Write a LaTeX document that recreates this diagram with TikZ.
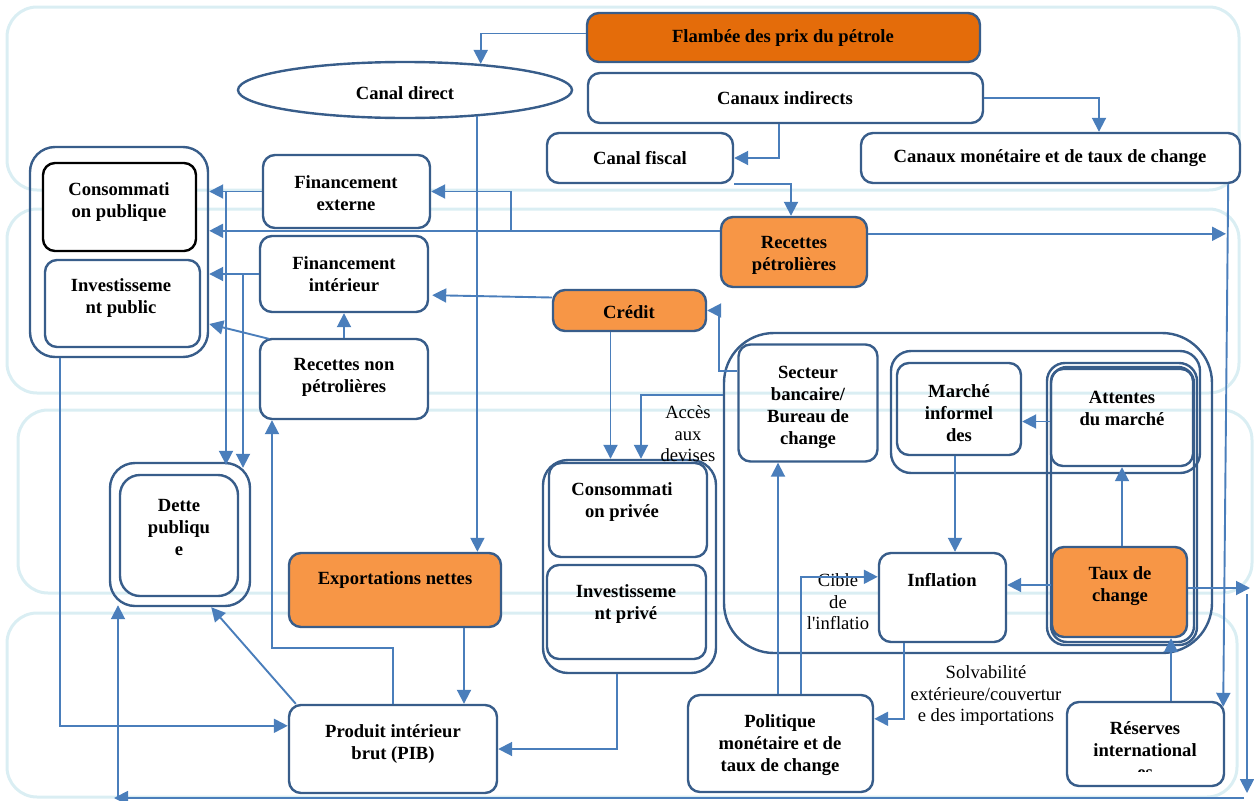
\documentclass[tikz,border=0pt]{standalone}
\usepackage{fontspec}
\setmainfont{Liberation Serif}
\usetikzlibrary{shapes.geometric,arrows.meta,calc}
\definecolor{bord}{HTML}{385D8A}
\definecolor{arrc}{HTML}{4A7EBB}
\definecolor{band}{HTML}{DAEEF3}
\definecolor{orD}{HTML}{E46C0A}
\definecolor{orL}{HTML}{F79646}
\begin{document}
\begin{tikzpicture}[x=1pt,y=-1pt,
  sz/.style 2 args={minimum width=#1pt, minimum height=#2pt},
  bx/.style={draw=bord, line width=2.4pt, rounded corners=12pt, inner sep=0pt, fill=white},
  bxo/.style={draw=bord, line width=2.4pt, rounded corners=12pt, inner sep=0pt},
  grp/.style={draw=bord, line width=2.4pt, rounded corners=25pt, inner sep=0pt},
  ell/.style={ellipse, draw=bord, line width=2.4pt, inner sep=0pt, fill=white},
  bandst/.style={draw=band, line width=3pt, rounded corners=30pt},
  tx/.style={font=\fontsize{18.6}{22}\selectfont\bfseries, align=center, inner sep=0pt},
  lb/.style={font=\fontsize{18.6}{21.5}\selectfont, align=center, inner sep=0pt},
  arr/.style={draw=arrc, line width=1.9pt, -{Triangle[length=14pt,width=14pt]}}
]
\useasboundingbox (0,0) rectangle (1254,801);
% background bands
\draw[bandst] (7,7) rectangle (1239,190);
\draw[bandst] (7,209) rectangle (1239,393);
\draw[bandst] (18,410) rectangle (1252,593);
\draw[bandst] (7,613) rectangle (1237,797);

% groups
\node[grp, sz={178}{210}] (gpub) at (119,252) {};
\node[grp, sz={140}{143}] (gdette) at (180,534.5) {};
\node[grp, sz={173}{213}] (gpriv) at (629.5,566.5) {};
\node[grp, rounded corners=50pt, sz={488}{320}] (gmon) at (968,493) {};
\node[grp, rounded corners=20pt, sz={309}{122}] (gmar) at (1045.5,412) {};
\node[grp, rounded corners=18pt, sz={150}{282}] (gatt) at (1122,504) {};
\node[grp, rounded corners=16pt, sz={143}{275}] (gatt2) at (1122.5,504.5) {};

% boxes
\node[bx, sz={393}{49}, fill=orD] (flam) at (783.5,37.5) {};
\node[ell, minimum width=334pt, minimum height=56pt] (cd) at (405,90) {};
\node[bx, sz={395}{50}] (ci) at (785.5,98) {};
\node[bx, sz={186}{50}] (cf) at (640,158) {};
\node[bx, sz={379}{50}] (cm) at (1050.5,158) {};
\node[bx, draw=black, sz={153}{88}] (cpub) at (119.5,207) {};
\node[bx, sz={155}{87}] (ipub) at (122.5,303.5) {};
\node[bx, sz={167}{73}] (fext) at (346.5,191.5) {};
\node[bx, sz={168}{76}] (fint) at (344,274) {};
\node[bx, sz={168}{80}] (rnp) at (344,379) {};
\node[bx, sz={146}{70}, fill=orL] (rp) at (794,252) {};
\node[bx, sz={153}{41}, fill=orL] (cred) at (629.5,310.5) {};
\node[bx, rounded corners=20pt, sz={118}{121}] (dette) at (179,535.5) {};
\node[bx, sz={212}{74}, fill=orL] (expn) at (395,590) {};
\node[bx, sz={158}{94}] (cpriv) at (628,510) {};
\node[bxo, sz={159}{94}] (ipriv) at (626.5,612) {};
\node[bx, sz={208}{88}] (pib) at (393,749) {};
\node[bxo, sz={139}{117}] (sb) at (808,403) {};
\node[bxo, sz={124}{92}] (mar) at (959,409) {};
\node[bxo, sz={142}{97}] (att) at (1122,417.5) {};
\node[bx, sz={135}{90}, fill=orL] (taux) at (1119.5,592) {};
\node[bx, sz={127}{89}] (infl) at (942.5,597.5) {};
\node[bx, sz={185}{97}] (pol) at (780.5,743.5) {};
\node[bx, sz={157}{84}] (res) at (1145.5,744) {};

% texts
\node[tx] (t-flam) at (783,38) {Flambée des prix du pétrole};
\node[tx] (t-cd) at (405,93) {Canal direct};
\node[tx] (t-ci) at (785,98) {Canaux indirects};
\node[tx] (t-cf) at (640,158) {Canal fiscal};
\node[tx] (t-cm) at (1050,158) {Canaux monétaire et de taux de change};
\node[tx] (t-cpub) at (119,202) {Consommati\\on publique};
\node[tx] (t-ipub) at (121,298) {Investisseme\\nt public};
\node[tx] (t-fext) at (346,193) {Financement\\externe};
\node[tx] (t-fint) at (344,274) {Financement\\intérieur};
\node[tx] (t-rnp) at (344,377) {Recettes non\\pétrolières};
\node[tx] (t-rp) at (794,255) {Recettes\\pétrolières};
\begin{scope}
\clip (553,290) rectangle (706,318.5);
\node[tx] (t-cred) at (629,312) {Crédit};
\end{scope}
\node[tx] (t-dette) at (179,527) {Dette\\publiqu\\e};
\node[tx] (t-expn) at (395,580) {Exportations nettes};
\node[tx] (t-cpriv) at (622,502) {Consommati\\on privée};
\node[tx] (t-ipriv) at (626,604) {Investisseme\\nt privé};
\node[tx] (t-pib) at (393,744) {Produit intérieur\\brut (PIB)};
\node[tx] (t-sb) at (808,407) {Secteur\\bancaire/\\Bureau de\\change};
\node[tx] (t-mar) at (959,413) {Marché\\informel\\des};
\node[tx] (t-att) at (1122,408) {Attentes\\du marché};
\node[tx] (t-taux) at (1120,586) {Taux de\\change};
\node[tx] (t-infl) at (942,580) {Inflation};
\node[tx] (t-pol) at (780,745) {Politique\\monétaire et de\\taux de change};
\begin{scope}
\clip (1067,702) rectangle (1224,771);
\node[tx] (t-res) at (1145,750) {Réserves\\international\\es};
\end{scope}
\node[lb] (l-acc) at (688,434) {Accès\\aux\\devises};
\node[lb] (l-cib) at (838,602) {Cible\\de\\l\textquotesingle inflatio};
\node[lb] (l-sol) at (986,696) {Solvabilité\\extérieure/couvertur\\e des importations};

% helper coordinates
\coordinate (x227) at (226,0);
\coordinate (x243) at (243,0);
\coordinate (x511) at (511,0);
\coordinate (x641) at (641,0);
\coordinate (x272) at (272,0);
\coordinate (x118) at (118,0);
\coordinate (x1171) at (1171,0);
\coordinate (xr) at (1226,0);
\coordinate (y648) at (0,648);
\coordinate (y395) at (0,395);

% connectors
\draw[arr] ($(flam.west)+(0,-4)$) -| (cd.19);
\draw[arr] ($(ci.south)+(-6.5,0)$) |- (cf.east);
\draw[arr] (ci.east) -| ($(cm.north)+(48.5,0)$);
\draw[arr] (cf.south east) -| ($(rp.north)+(-3,0)$);
\draw[arr] (cd.-20.6) -- (cd.-20.6 |- expn.north);
\coordinate (rpL) at ($(rp.north west)+(0,15)$);
\draw[arr] (rpL) -- (rpL -| gpub.east);
\draw[arr] (rpL -| x511) |- (fext.east);
\coordinate (rpR) at ($(rp.north east)+(0,18)$);
\draw[arr] (rpR) -- (rpR -| xr);
\draw[arr] ($(cm.south east)+(-13,0)$) -- ($(res.north east)+(-2,6)$);
\draw[arr] (fext.west) -- (fext.west -| gpub.east);
\draw[arr] (fext.west -| x227) -- ($(x227 |- gdette.north)+(0,3)$);
\draw[arr] (fint.west) -- (fint.west -| gpub.east);
\draw[arr] (fint.west -| x243) -- ($(x243 |- gdette.north)+(0,6)$);
\draw[arr] (rnp.north) -- (fint.south);
\draw[arr] ($(rnp.north west)+(10,1)$) -- ($(gpub.east)+(0,72)$);
\draw[arr] ($(cred.west)+(0,-13)$) -- ($(fint.south east)+(3,-18)$);
\coordinate (credS) at ($(cred.south)+(-19,0)$);
\draw[arr] (credS) -- (credS |- gpriv.north);
\coordinate (sbL) at ($(sb.north west)+(0,28)$);
\draw[arr] (sbL) -| ($(cred.east)+(12,0)$) -- (cred.east);
\draw[arr] (gmon.west |- y395) -| (x641 |- gpriv.north);
\draw[arr] ($(gpub.south west)+(31,0)$) |- ($(pib.north west)+(0,22)$);
\coordinate (c1) at (1250,588);
\draw[arr] (taux.east |- c1) -- (c1);
\coordinate (c2) at (1247,594);
\coordinate (c3) at (1247,793);
\draw[arr] (c2) -- (c3);
\coordinate (c4) at (1244,798);
\coordinate (c5) at (114,798);
\draw[arr] (c4) -- (c5);
\draw[arr] (x118 |- c5) -- ($(x118 |- gdette.south)+(0,-2)$);
\draw[arr] ($(pib.north west)+(8,0)$) -- ($(gdette.south east)+(-40,0)$);
\draw[arr] (pib.north) -- (pib.north |- y648) -| (x272 |- rnp.south);
\coordinate (expS) at ($(expn.south)+(69,0)$);
\draw[arr] (expS) -- (expS |- pib.north);
\coordinate (gpS) at ($(gpriv.south)+(-12.5,0)$);
\draw[arr] (gpS) |- (pib.east);
\coordinate (polA) at ($(pol.north)+(-2.5,0)$);
\draw[arr] (polA) -- (polA |- sb.south);
\coordinate (polB) at ($(pol.north)+(20.5,0)$);
\draw[arr] (polB) |- ($(infl.north west)+(0,25)$);
\coordinate (inS) at ($(infl.south west)+(26,0)$);
\draw[arr] (inS) |- ($(pol.north east)+(0,25)$);
\coordinate (marS) at ($(mar.south)+(-4,0)$);
\draw[arr] (marS) -- (marS |- infl.north);
\coordinate (attW) at ($(att.west)+(0,4)$);
\draw[arr] (attW) -- (attW -| mar.east);
\draw[arr] (att.south |- taux.north) -- (att.south);
\coordinate (tauW) at ($(taux.west)+(0,-7)$);
\draw[arr] (tauW) -- (tauW -| infl.east);
\draw[arr] (x1171 |- res.north) -- (x1171 |- taux.south);
\end{tikzpicture}
\end{document}
